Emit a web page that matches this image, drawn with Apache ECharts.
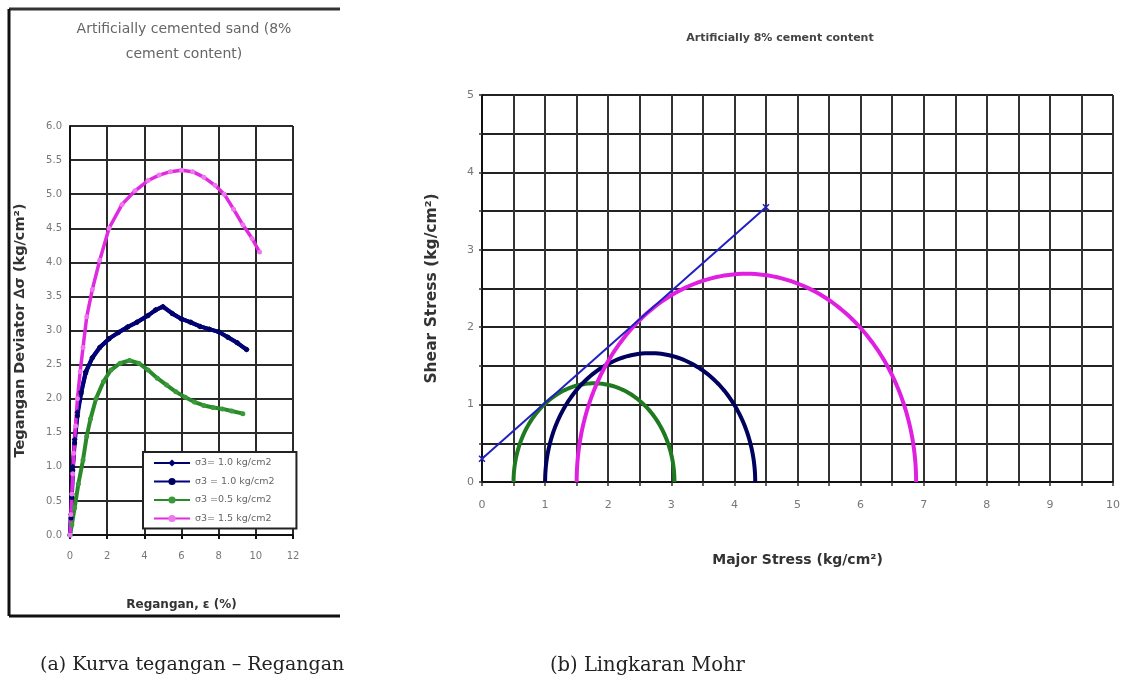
<!DOCTYPE html>
<html><head><meta charset="utf-8">
<script src="https://cdn.jsdelivr.net/npm/echarts@6/dist/echarts.min.js"></script>
<style>html,body{margin:0;padding:0;background:#fff}#c{width:1128px;height:685px}</style>
</head><body><div id="c"></div>
<script>
// ---- Left chart: stress-strain curves (strain %, deviator stress kg/cm2)
var navyA = [[0,0],[0.05,0.3],[0.1,0.6],[0.15,1.0],[0.25,1.4],[0.4,1.8],[0.6,2.1],[0.85,2.4],[1.2,2.6],[1.6,2.75],[2.1,2.88],[2.6,2.97],[3.1,3.05],[3.6,3.12],[4.2,3.22],[4.6,3.3],[5.0,3.35],[5.5,3.25],[6.0,3.17],[6.5,3.12],[7.0,3.06],[7.5,3.02],[8.0,2.98],[8.5,2.9],[9.0,2.82],[9.5,2.72]];
var navyB = [[0,0],[0.05,0.25],[0.1,0.55],[0.15,0.95],[0.25,1.35],[0.4,1.75],[0.6,2.08],[0.85,2.38],[1.2,2.6],[1.6,2.75],[2.1,2.88],[2.6,2.97],[3.1,3.05],[3.6,3.12],[4.2,3.22],[4.6,3.3],[5.0,3.35],[5.5,3.25],[6.0,3.17],[6.5,3.12],[7.0,3.06],[7.5,3.02],[8.0,2.98],[8.5,2.9],[9.0,2.82],[9.5,2.72]];
var green = [[0,0],[0.1,0.15],[0.25,0.4],[0.45,0.75],[0.7,1.1],[0.9,1.45],[1.1,1.7],[1.4,2.0],[1.8,2.25],[2.2,2.42],[2.7,2.52],[3.2,2.56],[3.7,2.52],[4.2,2.42],[4.7,2.3],[5.2,2.2],[5.7,2.1],[6.2,2.02],[6.7,1.95],[7.2,1.9],[7.7,1.87],[8.2,1.85],[8.7,1.82],[9.3,1.78]];
var magenta = [[0,0],[0.05,0.3],[0.1,0.6],[0.15,0.9],[0.2,1.2],[0.3,1.6],[0.4,2.0],[0.55,2.4],[0.7,2.75],[0.9,3.2],[1.2,3.6],[1.6,4.03],[2.1,4.5],[2.8,4.85],[3.5,5.05],[4.2,5.2],[4.8,5.28],[5.4,5.33],[6.0,5.35],[6.6,5.33],[7.2,5.25],[7.8,5.13],[8.3,5.0],[8.8,4.78],[9.3,4.55],[9.8,4.35],[10.2,4.15]];
var legendNames = ['σ3= 1.0 kg/cm2', 'σ3 = 1.0 kg/cm2', 'σ3 =0.5 kg/cm2', 'σ3= 1.5 kg/cm2'];

// ---- Right chart: Mohr circles [sigma3, sigma1] and failure envelope
var mohrGreen = [[0.5, 3.05]];
var mohrNavy = [[1.0, 4.33]];
var mohrMagenta = [[1.5, 6.88]];
var envelope = [[0, 0.3], [4.5, 3.55]];

var chart = echarts.init(document.getElementById('c'), null, {renderer:'canvas'});
var FONT = 'DejaVu Sans, Verdana, sans-serif';
var SERIF = 'DejaVu Serif, Liberation Serif, serif';

function mohrRender(color){
  return function(params, api){
    var s3 = api.value(0), s1 = api.value(1);
    var c = (s3 + s1) / 2, r = (s1 - s3) / 2;
    var pts = [];
    for (var i = 0; i <= 120; i++) {
      var t = Math.PI * i / 120;
      pts.push(api.coord([c - r * Math.cos(t), r * Math.sin(t)]));
    }
    return {type:'polyline', shape:{points:pts}, style:{fill:null, stroke:color, lineWidth:4}};
  };
}

var gridLine = {show:true, lineStyle:{color:'#2a2a2a', width:2}};
var axLine = {show:true, lineStyle:{color:'#111', width:2}};

var option = {
  animation:false,
  textStyle:{fontFamily:FONT},
  title:[
    {text:'Artificially cemented sand (8%\ncement content)', left:179, top:12, textAlign:'center',
     textStyle:{fontSize:14, fontWeight:'normal', color:'#666', lineHeight:25, fontFamily:FONT}},
    {text:'Artificially 8% cement content', left:775, top:28, textAlign:'center',
     textStyle:{fontSize:11, fontWeight:'bold', color:'#444', fontFamily:FONT}}
  ],
  legend:{
    data:legendNames, orient:'vertical', left:143, top:452,
    backgroundColor:'#fff', borderColor:'#222', borderWidth:2, padding:[6,22,5,10],
    itemWidth:36, itemHeight:9, itemGap:8.5,
    textStyle:{fontSize:9.5, color:'#666', fontFamily:FONT}
  },
  grid:[
    {left:70, top:126, width:223, height:409},
    {left:482, top:95, width:631, height:387}
  ],
  xAxis:[
    {gridIndex:0, type:'value', min:0, max:12, interval:2,
     name:'Regangan, ε (%)', nameLocation:'middle', nameGap:64,
     nameTextStyle:{fontSize:12, fontWeight:'bold', color:'#333', fontFamily:FONT},
     axisLine:axLine, axisTick:{show:true, length:4, lineStyle:{color:'#111', width:2}},
     axisLabel:{fontSize:10, color:'#777', margin:16, fontFamily:FONT}, splitLine:gridLine},
    {gridIndex:1, type:'value', min:0, max:10, interval:0.5,
     name:'Major Stress (kg/cm²)', nameLocation:'middle', nameGap:71,
     nameTextStyle:{fontSize:14, fontWeight:'bold', color:'#333', fontFamily:FONT},
     axisLine:axLine, axisTick:{show:true, length:4, lineStyle:{color:'#333', width:1.5}},
     axisLabel:{fontSize:11, color:'#777', margin:18, fontFamily:FONT, formatter:function(v){return v % 1 === 0 ? String(v) : '';}},
     splitLine:{show:true, lineStyle:{color:'#333', width:2}}}
  ],
  yAxis:[
    {gridIndex:0, type:'value', min:0, max:6, interval:0.5,
     name:'Tegangan Deviator ∆σ (kg/cm²)', nameLocation:'middle', nameGap:42,
     nameTextStyle:{fontSize:14.5, fontWeight:'bold', color:'#333', fontFamily:FONT},
     axisLine:axLine, axisTick:{show:false},
     axisLabel:{fontSize:10, color:'#777', margin:8, fontFamily:FONT, formatter:function(v){return v.toFixed(1);}},
     splitLine:gridLine},
    {gridIndex:1, type:'value', min:0, max:5, interval:0.5,
     name:'Shear Stress (kg/cm²)', nameLocation:'middle', nameGap:42,
     nameTextStyle:{fontSize:15.5, fontWeight:'bold', color:'#333', fontFamily:FONT},
     axisLine:axLine, axisTick:{show:true, length:3, lineStyle:{color:'#333', width:1.5}},
     axisLabel:{fontSize:11, color:'#777', margin:8, fontFamily:FONT, formatter:function(v){return v % 1 === 0 ? String(v) : '';}},
     splitLine:{show:true, lineStyle:{color:'#222', width:2}}}
  ],
  series:[
    {name:legendNames[0], type:'line', xAxisIndex:0, yAxisIndex:0, data:navyA,
     symbol:'diamond', symbolSize:6, lineStyle:{color:'#000070', width:4}, itemStyle:{color:'#000070'}},
    {name:legendNames[1], type:'line', xAxisIndex:0, yAxisIndex:0, data:navyB,
     symbol:'circle', symbolSize:5, lineStyle:{color:'#000080', width:4}, itemStyle:{color:'#000060'}},
    {name:legendNames[2], type:'line', xAxisIndex:0, yAxisIndex:0, data:green,
     symbol:'circle', symbolSize:5, lineStyle:{color:'#2a8a2a', width:4}, itemStyle:{color:'#3a9a3a'}},
    {name:legendNames[3], type:'line', xAxisIndex:0, yAxisIndex:0, data:magenta,
     symbol:'circle', symbolSize:5, lineStyle:{color:'#e02ae0', width:3.5}, itemStyle:{color:'#ee77ee'}},
    {type:'custom', xAxisIndex:1, yAxisIndex:1, data:mohrGreen, renderItem:mohrRender('#1f7a1f'), silent:true},
    {type:'custom', xAxisIndex:1, yAxisIndex:1, data:mohrNavy, renderItem:mohrRender('#00005e'), silent:true},
    {type:'custom', xAxisIndex:1, yAxisIndex:1, data:mohrMagenta, renderItem:mohrRender('#e020e0'), silent:true},
    {type:'line', xAxisIndex:1, yAxisIndex:1, data:envelope, symbol:'path://M0,0 L10,10 M10,0 L0,10',
     symbolSize:6, lineStyle:{color:'#2020c0', width:2}, itemStyle:{color:'#2020c0', borderColor:'#2020c0', borderWidth:1.5}}
  ],
  graphic:[
    {type:'line', shape:{x1:9, y1:9, x2:340, y2:9}, style:{stroke:'#333', lineWidth:3}},
    {type:'line', shape:{x1:9, y1:9, x2:9, y2:616}, style:{stroke:'#111', lineWidth:3}},
    {type:'line', shape:{x1:9, y1:616, x2:340, y2:616}, style:{stroke:'#111', lineWidth:3}},
    {type:'text', left:40, top:656, style:{text:'(a) Kurva tegangan – Regangan', fontSize:19, fontFamily:SERIF, fill:'#222'}},
    {type:'text', left:550, top:656, style:{text:'(b) Lingkaran Mohr', fontSize:19.5, fontFamily:SERIF, fill:'#222'}}
  ]
};
chart.setOption(option);
</script>
</body></html>
